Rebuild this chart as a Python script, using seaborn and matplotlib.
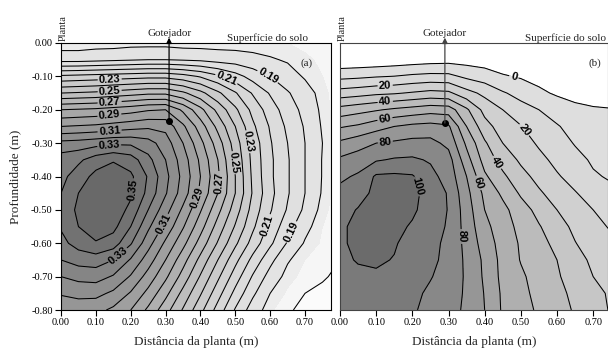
import numpy as np
import matplotlib
matplotlib.use("Agg")
import matplotlib.pyplot as plt
import seaborn as sns

sns.set_style("ticks")
plt.rcParams['font.family'] = ['Liberation Serif', 'DejaVu Serif']

# ---------------- data ----------------
# grid positions (m)
dist_a = [0.00, 0.05, 0.10, 0.15, 0.20, 0.25, 0.30, 0.35, 0.40, 0.45, 0.50, 0.55, 0.60, 0.65, 0.70, 0.75, 0.80]
depth = [0.00, -0.05, -0.10, -0.15, -0.20, -0.25, -0.30, -0.35, -0.40, -0.45, -0.50, -0.55, -0.60, -0.65, -0.70, -0.75, -0.80]
dist_b = [0.00, 0.05, 0.10, 0.15, 0.20, 0.25, 0.30, 0.35, 0.40, 0.45, 0.50, 0.55, 0.60, 0.65, 0.70, 0.75]

# (a) soil water content, rows = depth, columns = distance
theta = [
    [0.175,0.175,0.176,0.176,0.177,0.177,0.177,0.176,0.176,0.176,0.176,0.176,0.1755,0.175,0.1735,0.172,0.171],
    [0.186,0.186,0.187,0.188,0.189,0.190,0.190,0.189,0.188,0.186,0.185,0.183,0.181,0.179,0.176,0.174,0.171],
    [0.222,0.223,0.224,0.225,0.226,0.227,0.227,0.224,0.219,0.212,0.204,0.196,0.190,0.184,0.179,0.175,0.171],
    [0.250,0.251,0.252,0.254,0.256,0.258,0.258,0.252,0.243,0.232,0.221,0.209,0.199,0.191,0.184,0.177,0.171],
    [0.280,0.281,0.282,0.284,0.286,0.289,0.290,0.278,0.263,0.247,0.232,0.217,0.205,0.195,0.187,0.178,0.171],
    [0.300,0.301,0.302,0.304,0.306,0.308,0.307,0.292,0.275,0.257,0.240,0.222,0.209,0.198,0.189,0.179,0.171],
    [0.323,0.324,0.326,0.328,0.328,0.324,0.315,0.300,0.283,0.265,0.245,0.226,0.211,0.200,0.190,0.180,0.171],
    [0.335,0.338,0.345,0.349,0.345,0.333,0.320,0.305,0.288,0.270,0.248,0.227,0.212,0.201,0.190,0.1795,0.171],
    [0.337,0.345,0.353,0.356,0.352,0.339,0.323,0.307,0.290,0.272,0.250,0.228,0.212,0.201,0.190,0.1795,0.171],
    [0.340,0.350,0.357,0.359,0.352,0.337,0.321,0.305,0.288,0.270,0.250,0.229,0.213,0.201,0.190,0.179,0.171],
    [0.343,0.352,0.358,0.357,0.347,0.330,0.314,0.298,0.281,0.263,0.245,0.226,0.211,0.199,0.188,0.177,0.171],
    [0.341,0.350,0.356,0.353,0.340,0.322,0.307,0.291,0.274,0.256,0.239,0.222,0.207,0.194,0.183,0.175,0.171],
    [0.337,0.344,0.349,0.345,0.331,0.314,0.298,0.283,0.266,0.249,0.232,0.216,0.202,0.189,0.179,0.174,0.171],
    [0.330,0.334,0.335,0.330,0.319,0.305,0.290,0.274,0.257,0.240,0.223,0.207,0.193,0.181,0.175,0.172,0.170],
    [0.320,0.323,0.324,0.319,0.309,0.296,0.282,0.266,0.249,0.232,0.215,0.199,0.186,0.177,0.173,0.171,0.168],
    [0.311,0.313,0.313,0.308,0.299,0.287,0.273,0.257,0.241,0.224,0.207,0.192,0.180,0.174,0.170,0.168,0.166],
    [0.303,0.304,0.303,0.298,0.290,0.278,0.264,0.249,0.233,0.216,0.199,0.185,0.176,0.171,0.168,0.164,0.161],
]

# (b) relative values (%), rows = depth, columns = distance
rel = [
    [-15,-15,-15,-15,-15,-15,-15,-16,-17,-18,-19,-20,-21,-22,-22,-22],
    [-8,-7.5,-7,-6,-5,-4,-3.5,-4,-5,-6.5,-8,-9.5,-10.5,-11.5,-12,-12.5],
    [7.1,8,9.3,10.2,11.9,12.9,12.6,7.9,5,1,-1,-2.5,-3.5,-4.5,-5,-5.5],
    [24.4,26,28,29,31,33,32,23.5,17.5,11,6.7,1.5,-1,-2,-2.5,-3],
    [43.8,46.5,49,51.7,53.8,56,55,41.7,26.7,20,13.7,10,4.5,1.5,0.6,0.3],
    [59,61.5,66,70,72.5,73.5,71.5,50,34,25,20.5,14,11,5.5,3.5,2.9],
    [72,76,80,81.5,83,83,77.5,58,41.4,30,24.3,18.7,13.9,9.4,7.5,5],
    [81.7,84.7,89,91,91.5,89,84,64,46,36,28.3,22.6,17.5,12.7,8.8,7],
    [87.9,91.5,101.5,102,101,93,86,70,51.7,42,33.3,27,21,16.5,11,9],
    [93,97,102,103,102,97,89,73,57.6,48,38.6,31.4,25.8,20.6,16,12],
    [97,100.5,103,103,101.5,96,89.5,75,60,52.9,44.3,37,30,25,20,17],
    [99,101.5,103,102.5,99,94,89,76,62.9,54.3,47.3,40.7,34.5,27.5,22.9,19],
    [99,101.5,102.5,101,96,92.5,88,77,65.7,55.7,48.9,43.3,37.3,30.4,25,22],
    [97,101,101.5,99.5,95,92,87.5,78,68,56.7,49.5,44.5,40,33.8,28,25],
    [95.5,97,98.5,96.5,94,90.5,86.5,78.5,68.5,57.2,51.5,46.3,41.3,35,30,27],
    [94,95,95.5,94.5,92,88.5,85,78.5,69.5,58.3,52.4,47.5,42.6,37.8,32,29],
    [93,94,94,93,91,87.5,83.5,78.3,70,58.7,53.5,48.6,43.8,39,34.4,29],
]

emitter_a = (0.31, -0.235)
emitter_b = (0.29, -0.24)
xticks = [0.00, 0.10, 0.20, 0.30, 0.40, 0.50, 0.60, 0.70]
yticks = [0.00, -0.10, -0.20, -0.30, -0.40, -0.50, -0.60, -0.70, -0.80]


def labelled_contours(ax, X, Y, Z, plain, labelled, positions, fmt):
    ax.contour(X, Y, Z, levels=plain, colors='black', linewidths=0.75)
    cs = ax.contour(X, Y, Z, levels=labelled, colors='black', linewidths=0.75)
    texts = ax.clabel(cs, manual=positions, fmt=fmt, inline=True, inline_spacing=2, fontsize=8)
    for t in texts:
        t.set_fontfamily('Liberation Sans')
        t.set_fontweight('bold')


# ---------------- figure ----------------
fig = plt.figure(figsize=(6.08, 3.49), dpi=100)
axa = fig.add_axes([61/608, 1-310/349, 270/608, 267/349])
axb = fig.add_axes([340/608, 1-310/349, 268/608, 267/349])

# (a)
Xa, Ya = np.meshgrid(dist_a, depth)
Za = np.array(theta)
fill_a = [0.10, 0.17, 0.175, 0.18] + [round(0.19 + 0.01*i, 2) for i in range(17)] + [0.40]
n_a = len(fill_a) - 1
ta_ = np.linspace(0, 1, n_a - 3)
gray_a = [0.985, 0.965, 0.925] + list(0.89 - 0.48 * ta_**1.35)
axa.contourf(Xa, Ya, Za, levels=fill_a, colors=[(g, g, g) for g in gray_a])
lab_a = [0.19, 0.21, 0.23, 0.25, 0.27, 0.29, 0.31, 0.33, 0.35]
plain_a = [0.17, 0.18, 0.20, 0.22, 0.24, 0.26, 0.28, 0.30, 0.32, 0.34]
pos_a = [(0.14, -0.117), (0.14, -0.15), (0.14, -0.186), (0.14, -0.228), (0.14, -0.272), (0.14, -0.322),
         (0.20, -0.44), (0.175, -0.65), (0.307, -0.55), (0.384, -0.46), (0.427, -0.416),
         (0.48, -0.36), (0.52, -0.30), (0.47, -0.117), (0.58, -0.13), (0.585, -0.545), (0.648, -0.56)]
labelled_contours(axa, Xa, Ya, Za, plain_a, lab_a, pos_a, '%.2f')

# (b)
Xb, Yb = np.meshgrid(dist_b, depth)
Zb = np.array(rel)
fill_b = [-40] + [10*i for i in range(11)] + [130]
n_b = len(fill_b) - 1
tb_ = np.linspace(0, 1, n_b - 1)
gray_b = [1.0] + list(0.87 - 0.45 * tb_**1.3)
axb.contourf(Xb, Yb, Zb, levels=fill_b, colors=[(g, g, g) for g in gray_b])
lab_b = [0, 20, 40, 60, 80, 100]
plain_b = [10, 30, 50, 70, 90]
pos_b = [(0.125, -0.13), (0.125, -0.175), (0.125, -0.232), (0.125, -0.295), (0.213, -0.43),
         (0.327, -0.58), (0.38, -0.42), (0.437, -0.356), (0.51, -0.26), (0.48, -0.105)]
labelled_contours(axb, Xb, Yb, Zb, plain_b, lab_b, pos_b, '%d')

for ax, em, xr, sup_x, lab, ec in [(axa, emitter_a, 0.7745, 0.708, '(a)', 'black'),
                                   (axb, emitter_b, 0.741, 0.736, '(b)', '#444444')]:
    ax.set_xlim(0, xr)
    ax.set_ylim(-0.80, 0.0)
    ax.set_xticks(xticks)
    ax.set_xticklabels([f"{v:.2f}" for v in xticks], fontsize=7.5)
    ax.tick_params(direction='out', length=4, width=0.8, pad=2, colors='black')
    for s in ax.spines.values():
        s.set_linewidth(0.8)
        s.set_color(ec)
    ax.set_xlabel('Distância da planta (m)', fontsize=9.5, labelpad=6)
    ax.plot(em[0], em[1], 'o', color='black', ms=4, zorder=5)
    ax.annotate('', xy=(em[0], 0.016), xytext=em, annotation_clip=False,
                arrowprops=dict(arrowstyle='-|>', color=ec, lw=0.9, mutation_scale=8,
                                shrinkA=0, shrinkB=0), zorder=6)
    ax.text(em[0], 0.022, 'Gotejador', ha='center', va='baseline', fontsize=8, clip_on=False)
    ax.text(sup_x, 0.007, 'Superfície do solo', ha='right', va='baseline', fontsize=8, clip_on=False)
    ax.text(0.006, 0.006, 'Planta', rotation=90, ha='center', va='bottom', fontsize=7.5, clip_on=False)
    ax.text(0.705, -0.06, lab, ha='center', va='center', fontsize=8)

axa.set_yticks(yticks)
axa.set_yticklabels([f"{v:.2f}" for v in yticks], fontsize=7.5)
axa.set_ylabel('Profundidade (m)', fontsize=9.5, labelpad=7)
axb.set_yticks([])

fig.savefig('out.png', dpi=100)
